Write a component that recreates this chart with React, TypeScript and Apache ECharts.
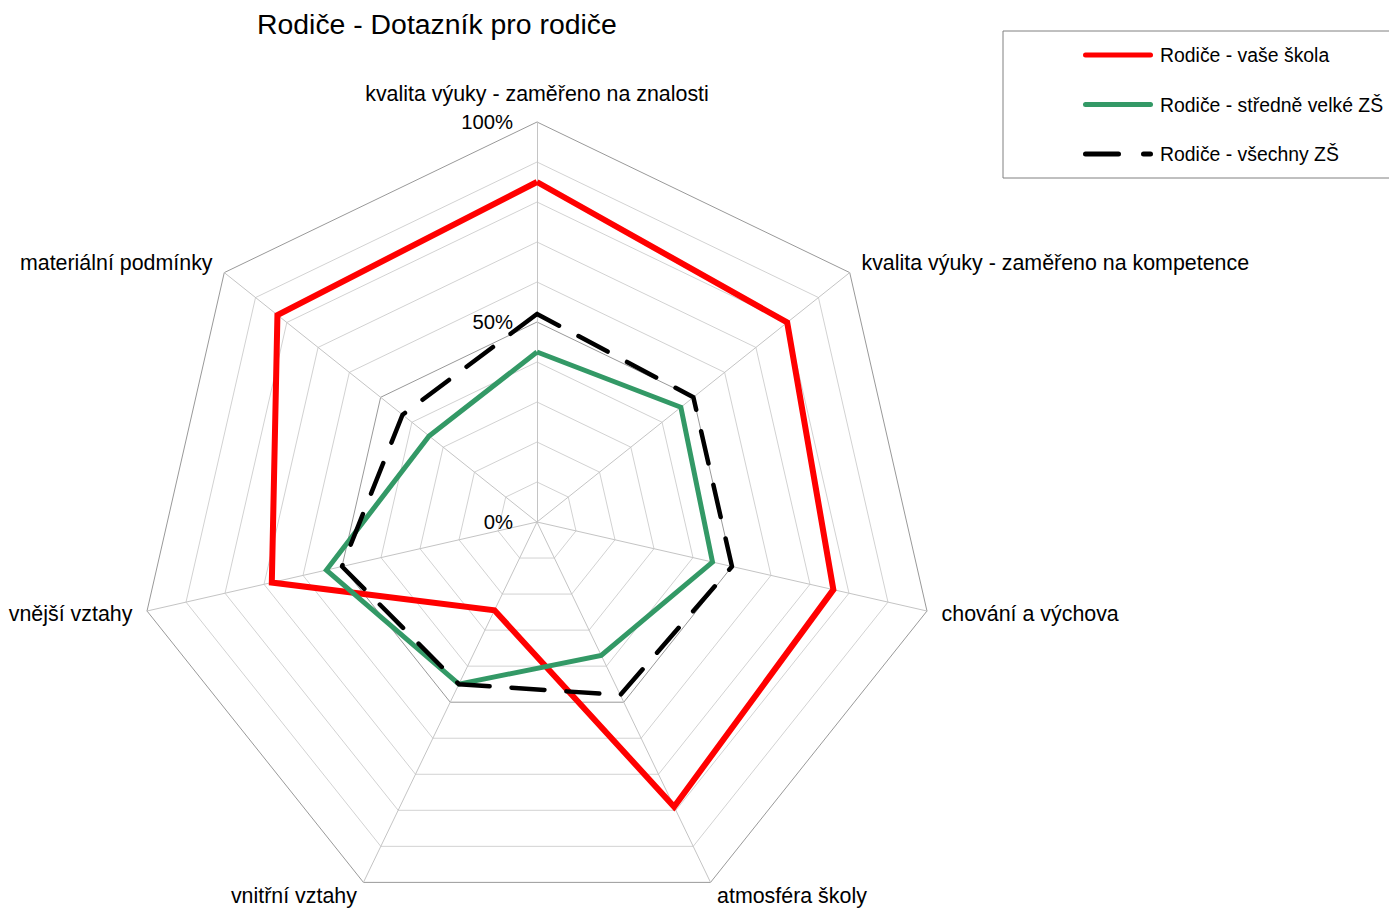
import React, { useEffect, useRef } from "react";
import * as echarts from "echarts";

// Indicators in drawing order (counter-clockwise from the top)
const categories = [
  "kvalita výuky - zaměřeno na znalosti",
  "materiální podmínky",
  "vnější vztahy",
  "vnitřní vztahy",
  "atmosféra školy",
  "chování a výchova",
  "kvalita výuky - zaměřeno na kompetence",
];

const seriesNames = [
  "Rodiče - vaše škola",
  "Rodiče - středně velké ZŠ",
  "Rodiče - všechny ZŠ",
];

const vaseSkola = [85, 83, 68, 24.5, 79, 76, 80];
const stredneVelkeZS = [42.5, 34.5, 54, 45, 37, 45, 46];
const vsechnyZS = [52, 43, 50, 45, 48, 50, 50];

const tickValues = [0, 50, 100];
const tickLabels = ["0%", "50%", "100%"];

const FONT = "'Liberation Sans', Arial, Helvetica, sans-serif";

const solidIcon =
  "path://M2.5,0H67.5A2.5,2.5,0,0,1,67.5,5H2.5A2.5,2.5,0,0,1,2.5,0Z";
const dashedIcon =
  "path://M2.5,0H35.5A2.5,2.5,0,0,1,35.5,5H2.5A2.5,2.5,0,0,1,2.5,0Z M60.5,0H67.5A2.5,2.5,0,0,1,67.5,5H60.5A2.5,2.5,0,0,1,60.5,0Z";

export default function App() {
  const ref = useRef<HTMLDivElement>(null);

  useEffect(() => {
    if (!ref.current) return;
    const chart = echarts.init(ref.current, null, { renderer: "svg" });

    const innerRingColors = Array.from({ length: 11 }, (_, i) =>
      i === 5 || i === 10 ? "rgba(0,0,0,0)" : "#d2d2d2"
    );

    const option = {
      animation: false,
      backgroundColor: "#ffffff",
      title: {
        text: "Rodiče - Dotazník pro rodiče",
        left: 257,
        top: 10,
        padding: 0,
        textStyle: {
          fontFamily: FONT,
          fontSize: 28.4,
          fontWeight: "normal",
          color: "#000",
        },
      },
      legend: {
        orient: "vertical",
        left: 1003,
        top: 31,
        padding: [14, 40, 14, 80],
        itemWidth: 70,
        itemHeight: 5,
        itemGap: 29.5,
        borderColor: "#808080",
        borderWidth: 1,
        backgroundColor: "#fff",
        itemStyle: { borderWidth: 0 },
        textStyle: {
          fontFamily: FONT,
          fontSize: 19.4,
          lineHeight: 20,
          color: "#000",
          padding: [0, 0, 0, 2],
        },
        data: [
          { name: seriesNames[0], icon: solidIcon, itemStyle: { color: "#ff0000", borderWidth: 0 } },
          { name: seriesNames[1], icon: solidIcon, itemStyle: { color: "#339966", borderWidth: 0 } },
          { name: seriesNames[2], icon: dashedIcon, itemStyle: { color: "#000000", borderWidth: 0 } },
        ],
      },
      radar: [
        {
          center: [537, 522],
          radius: 400,
          startAngle: 90,
          splitNumber: 10,
          shape: "polygon",
          nameGap: 15,
          axisName: {
            fontFamily: FONT,
            fontSize: 21.4,
            color: "#000",
          },
          axisLine: { show: true, lineStyle: { color: "#c4c4c4", width: 1 } },
          axisTick: { show: false },
          axisLabel: { show: false },
          splitArea: { show: false },
          splitLine: {
            show: true,
            lineStyle: { color: innerRingColors, width: 1 },
          },
          indicator: categories.map((name, i) => {
            const ind: any = { name, min: 0, max: 100 };
            if (i === 0) {
              ind.nameGap = 18;
              ind.axisLabel = {
                show: true,
                margin: 24,
                fontFamily: FONT,
                fontSize: 20.3,
                color: "#000",
                formatter: (v: number) => {
                  const k = tickValues.indexOf(Math.round(v));
                  return k >= 0 ? tickLabels[k] : "";
                },
              };
            }
            return ind;
          }),
        },
        {
          center: [537, 522],
          radius: 400,
          startAngle: 90,
          splitNumber: 2,
          shape: "polygon",
          axisName: { show: false },
          axisLine: { show: false },
          axisTick: { show: false },
          axisLabel: { show: false },
          splitArea: { show: false },
          splitLine: {
            show: true,
            lineStyle: { color: "#999999", width: 1 },
          },
          indicator: categories.map((name) => ({ name, min: 0, max: 100 })),
        },
      ],
      series: [
        {
          type: "radar",
          radarIndex: 0,
          symbol: "none",
          silent: true,
          data: [
            {
              name: seriesNames[0],
              value: vaseSkola,
              itemStyle: { color: "#ff0000" },
              lineStyle: { color: "#ff0000", width: 6, join: "miter" },
            },
            {
              name: seriesNames[1],
              value: stredneVelkeZS,
              itemStyle: { color: "#339966" },
              lineStyle: { color: "#339966", width: 5, join: "miter" },
            },
            {
              name: seriesNames[2],
              value: vsechnyZS,
              itemStyle: { color: "#000000" },
              lineStyle: {
                color: "#000000",
                width: 4.5,
                type: [33, 22],
                cap: "round",
                join: "round",
              },
            },
          ],
        },
      ],
    };

    chart.setOption(option as any);
    return () => chart.dispose();
  }, []);

  return (
    <div
      ref={ref}
      style={{ position: "fixed", left: 0, top: 0, width: 1389, height: 909 }}
    />
  );
}
